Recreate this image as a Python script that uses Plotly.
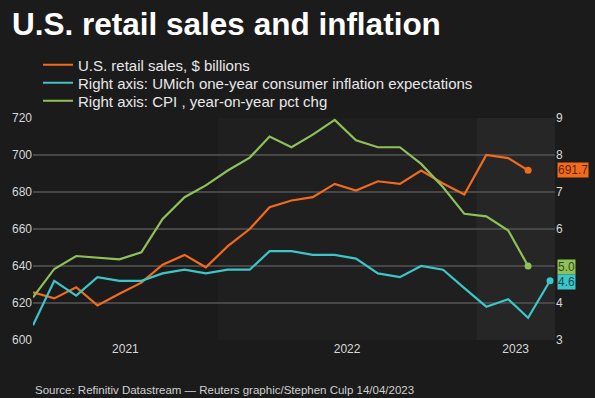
import plotly.graph_objects as go
import pandas as pd

# ---- data ----
months = pd.date_range("2021-04-01", "2023-04-01", freq="MS") + pd.Timedelta(days=14)
dates = [d.strftime("%Y-%m-%d") for d in months]

retail_sales = [625.8, 622.5, 628.5, 618.7, 625.0, 631.0, 640.7, 646.0, 639.3, 650.7,
                660.0, 671.8, 675.4, 677.2, 684.4, 680.8, 685.8, 684.4, 691.6, 684.6,
                678.6, 700.0, 698.3, 691.7]
umich = [3.4, 4.6, 4.2, 4.7, 4.6, 4.6, 4.8, 4.9, 4.8, 4.9, 4.9, 5.4, 5.4, 5.3, 5.3,
         5.2, 4.8, 4.7, 5.0, 4.9, 4.4, 3.9, 4.1, 3.6, 4.6]
cpi = [4.15, 4.92, 5.27, 5.22, 5.18, 5.37, 6.27, 6.86, 7.18, 7.58, 7.93, 8.50, 8.21,
       8.55, 8.95, 8.40, 8.21, 8.21, 7.76, 7.13, 6.41, 6.34, 5.96, 5.0]

left_ticks = [600, 620, 640, 660, 680, 700, 720]
right_ticks = [3, 4, 5, 6, 7, 8, 9]
# the "5" label is hidden behind the CPI end-value box in the original
right_tick_labels = ["3", "4", "", "6", "7", "8", "9"]
years = [2021, 2022, 2023]

ORANGE = "#f26b1d"
CYAN = "#3cc6c9"
GREEN = "#8fc15a"
BG = "#1b1b1b"

x_start = pd.Timestamp("2021-04-15")
x_end = pd.Timestamp("2023-04-22")

fig = go.Figure()
fig.add_trace(go.Scatter(x=dates[:len(retail_sales)], y=retail_sales, mode="lines",
                         name="U.S. retail sales, $ billions", legend="legend",
                         line=dict(color=ORANGE, width=2.2)))
fig.add_trace(go.Scatter(x=dates[:len(umich)], y=umich, mode="lines", yaxis="y2",
                         name="Right axis: UMich one-year consumer inflation expectations",
                         legend="legend2", line=dict(color=CYAN, width=2.2)))
fig.add_trace(go.Scatter(x=dates[:len(cpi)], y=cpi, mode="lines", yaxis="y2",
                         name="Right axis: CPI , year-on-year pct chg", legend="legend3",
                         line=dict(color=GREEN, width=2.2)))

# end markers
fig.add_trace(go.Scatter(x=[dates[len(retail_sales) - 1]], y=[retail_sales[-1]], mode="markers",
                         marker=dict(color=ORANGE, size=7), showlegend=False, hoverinfo="skip"))
fig.add_trace(go.Scatter(x=[dates[len(umich) - 1]], y=[umich[-1]], mode="markers", yaxis="y2",
                         marker=dict(color=CYAN, size=7), showlegend=False, hoverinfo="skip"))
fig.add_trace(go.Scatter(x=[dates[len(cpi) - 1]], y=[cpi[-1]], mode="markers", yaxis="y2",
                         marker=dict(color=GREEN, size=7), showlegend=False, hoverinfo="skip"))

# year bands
shapes = [
    dict(type="rect", xref="x", yref="paper", x0="2022-01-01", x1="2023-01-01", y0=0, y1=1,
         fillcolor="#1f1f1f", line=dict(width=0), layer="below"),
    dict(type="rect", xref="x", yref="paper", x0="2023-01-01", x1=x_end.strftime("%Y-%m-%d"),
         y0=0, y1=1, fillcolor="#262626", line=dict(width=0), layer="below"),
]

# year labels centred on visible part of each year
tickvals, ticktext = [], []
for yr in years:
    a = max(pd.Timestamp(f"{yr}-01-01"), x_start)
    b = min(pd.Timestamp(f"{yr + 1}-01-01"), x_end)
    tickvals.append((a + (b - a) / 2).strftime("%Y-%m-%d %H:%M"))
    ticktext.append(str(yr))

annotations = [
    dict(xref="paper", yref="y", x=1.0, xshift=2, y=retail_sales[-1], text=f"{retail_sales[-1]:.1f}",
         showarrow=False, xanchor="left", yanchor="middle", bgcolor=ORANGE,
         font=dict(size=12, color="rgba(40,10,0,0.75)"), borderpad=0),
    dict(xref="paper", yref="y2", x=1.0, xshift=2, y=cpi[-1], text=f"{cpi[-1]:.1f}",
         showarrow=False, xanchor="left", yanchor="middle", bgcolor=GREEN, yshift=-1,
         font=dict(size=12, color="rgba(20,30,0,0.75)"), borderpad=0),
    dict(xref="paper", yref="y2", x=1.0, xshift=2, y=umich[-1], text=f"{umich[-1]:.1f}",
         showarrow=False, xanchor="left", yanchor="middle", bgcolor=CYAN, yshift=-1,
         font=dict(size=12, color="rgba(0,30,30,0.75)"), borderpad=0),
    dict(xref="paper", yref="paper", x=0, y=-0.19, xanchor="left", yanchor="top",
         text="Source: Refinitiv Datastream \u2014 Reuters graphic/Stephen Culp 14/04/2023",
         showarrow=False, font=dict(size=11.5, color="#d0d0d0")),
]

leg_common = dict(x=0.0096, xanchor="left", yanchor="middle", bgcolor="rgba(0,0,0,0)",
                  font=dict(size=15, color="#e8e8e8"))

fig.update_layout(
    width=595, height=398,
    paper_bgcolor=BG, plot_bgcolor=BG,
    margin=dict(l=33, r=40, t=118, b=58),
    font=dict(family="Liberation Sans, Arial, sans-serif", color="#e0e0e0"),
    title=dict(text="<b>U.S. retail sales and inflation</b>", x=12 / 595, xanchor="left",
               y=1 - 24 / 398, yanchor="middle", font=dict(size=31.5, color="#ffffff")),
    legend=dict(y=1.2387, **leg_common),
    legend2=dict(y=1.1577, **leg_common),
    legend3=dict(y=1.0766, **leg_common),
    xaxis=dict(range=[x_start, x_end], showgrid=False, zeroline=False, showline=False,
               tickmode="array", tickvals=tickvals, ticktext=ticktext, ticks="",
               tickfont=dict(size=12, color="#d8d8d8")),
    yaxis=dict(range=[600, 720], tickmode="array", tickvals=left_ticks, showgrid=True,
               gridcolor="#474747", gridwidth=2, zeroline=False, ticks="",
               tickfont=dict(size=12, color="#d8d8d8")),
    yaxis2=dict(range=[3, 9], tickmode="array", tickvals=right_ticks, ticktext=right_tick_labels,
                overlaying="y", side="right", showgrid=False, zeroline=False, ticks="",
                tickfont=dict(size=12, color="#d8d8d8")),
    shapes=shapes,
    annotations=annotations,
    showlegend=True,
)

fig.write_html("out.html", config={"displayModeBar": False},
               post_script="document.body.style.margin='0';")
